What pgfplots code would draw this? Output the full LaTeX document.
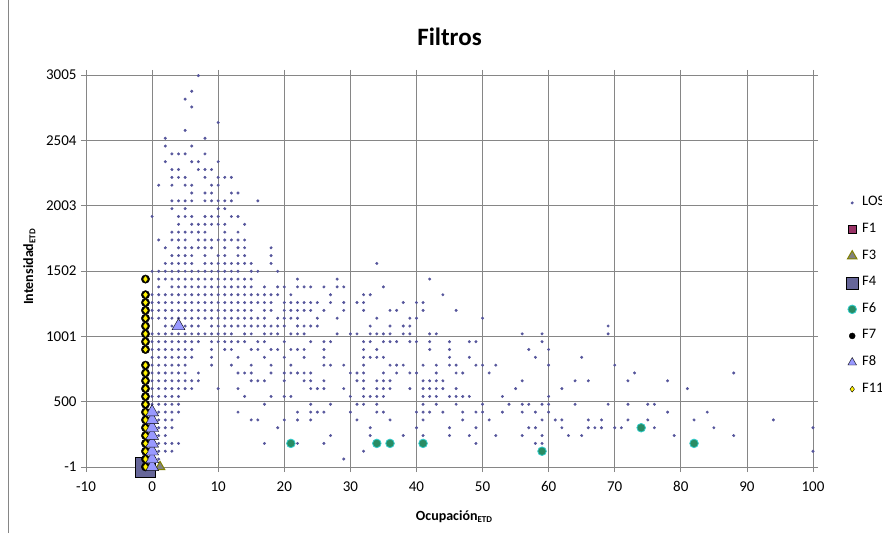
\documentclass[border=0pt]{standalone}
\usepackage{fontspec}
\setmainfont{Carlito}
\usepackage{pgfplots}
\pgfplotsset{compat=1.18}
\definecolor{losc}{RGB}{85,85,155}
\definecolor{f1c}{RGB}{153,51,102}
\definecolor{f3c}{RGB}{128,128,0}
\definecolor{f3f}{RGB}{128,128,128}
\definecolor{f4c}{RGB}{102,102,153}
\definecolor{f6c}{RGB}{40,140,100}
\definecolor{f6e}{RGB}{51,204,204}
\definecolor{f8c}{RGB}{153,153,255}
\definecolor{gridc}{RGB}{134,134,134}
\begin{document}
\begin{tikzpicture}[x=1pt,y=1pt]
\useasboundingbox (0,0) rectangle (882,533);
\draw[gridc, line width=0.75pt] (8,0) -- (8,533);
\begin{axis}[
 at={(86pt,66pt)}, anchor=south west, scale only axis, width=727pt, height=392pt,
 xmin=-10, xmax=100, ymin=-1, ymax=3005,
 xtick={-10,0,...,100}, xticklabels={-10,0,10,20,30,40,50,60,70,80,90,100},
 ytick={-1,499.833,1000.667,1501.5,2002.333,2503.167,3005},
 yticklabels={-1,500,1001,1502,2003,2504,3005},
 grid=major, major grid style={gridc, line width=0.75pt},
 axis line style={gridc, line width=0.75pt},
 tick style={gridc, line width=0.75pt}, tick align=outside, major tick length=5pt,
 x tick label style={font=\fontsize{15}{17}\selectfont, yshift=-6pt},
 y tick label style={font=\fontsize{15}{17}\selectfont, xshift=-1pt},
 /pgf/number format/assume math mode=true,
 clip=false,
 legend style={at={(1.0454,0.692)}, anchor=north west, draw=none, fill=none, inner sep=0pt,
   font=\fontsize{14.5}{17}\selectfont, row sep=12.6pt, column sep=3pt,
   nodes={inner sep=1pt, text height=9pt, text depth=3pt}},
 legend cell align=left,
 legend image code/.code={\draw[#1] plot coordinates {(0pt,0pt)};},
]
% LOS
\addplot[only marks, mark=*, mark size=1.3pt, losc, mark options={draw=none, fill=losc}] coordinates {
(7,3000)(6,2880)(5,2820)(6,2760)(10,2640)(5,2580)
(2,2520)(8,2520)
(2,2460)(6,2460)
(3,2400)(4,2400)(5,2400)(8,2400)
(2,2340)(6,2340)(7,2340)(10,2340)
(3,2280)(4,2280)(7,2280)(8,2280)(9,2280)
(3,2220)(4,2220)(5,2220)(8,2220)(10,2220)(11,2220)(12,2220)
(1,2160)(3,2160)(5,2160)(6,2160)(9,2160)(10,2160)
(6,2100)(8,2100)(9,2100)(12,2100)(13,2100)
(3,2040)(4,2040)(5,2040)(6,2040)(8,2040)(9,2040)(10,2040)(11,2040)(12,2040)(16,2040)
(3,1980)(5,1980)(10,1980)(11,1980)
(0,1920)(4,1920)(5,1920)(6,1920)(8,1920)(9,1920)(10,1920)(12,1920)(13,1920)
(4,1860)(6,1860)(7,1860)(8,1860)(9,1860)(10,1860)(11,1860)(14,1860)
(3,1800)(4,1800)(5,1800)(6,1800)(7,1800)(8,1800)(11,1800)(13,1800)
(1,1740)(3,1740)(4,1740)(5,1740)(7,1740)(8,1740)(9,1740)(10,1740)(11,1740)(12,1740)(13,1740)(14,1740)
(2,1680)(4,1680)(5,1680)(6,1680)(7,1680)(8,1680)(9,1680)(11,1680)(13,1680)(14,1680)(18,1680)
(3,1620)(4,1620)(5,1620)(6,1620)(8,1620)(10,1620)(11,1620)(13,1620)(14,1620)(18,1620)
(2,1560)(3,1560)(4,1560)(5,1560)(6,1560)(8,1560)(9,1560)(10,1560)(11,1560)(12,1560)(13,1560)(14,1560)(15,1560)(18,1560)(34,1560)
(0,1500)(1,1500)(2,1500)(3,1500)(4,1500)(5,1500)(6,1500)(7,1500)(8,1500)(9,1500)(10,1500)(11,1500)(12,1500)(13,1500)(15,1500)(16,1500)(19,1500)
(1,1440)(2,1440)(3,1440)(4,1440)(5,1440)(6,1440)(7,1440)(8,1440)(9,1440)(10,1440)(11,1440)(12,1440)(13,1440)(14,1440)(15,1440)(22,1440)(28,1440)(42,1440)
(1,1380)(3,1380)(4,1380)(5,1380)(6,1380)(7,1380)(8,1380)(9,1380)(10,1380)(11,1380)(12,1380)(13,1380)(14,1380)(15,1380)(17,1380)(19,1380)(20,1380)(22,1380)(23,1380)(24,1380)(26,1380)(28,1380)(29,1380)(35,1380)
(0,1320)(1,1320)(2,1320)(3,1320)(4,1320)(5,1320)(6,1320)(7,1320)(8,1320)(9,1320)(10,1320)(11,1320)(12,1320)(13,1320)(14,1320)(15,1320)(16,1320)(17,1320)(18,1320)(19,1320)(21,1320)(27,1320)(32,1320)(33,1320)(44,1320)
(0,1260)(1,1260)(2,1260)(3,1260)(4,1260)(5,1260)(6,1260)(7,1260)(8,1260)(9,1260)(10,1260)(11,1260)(12,1260)(13,1260)(14,1260)(15,1260)(16,1260)(17,1260)(18,1260)(20,1260)(21,1260)(22,1260)(23,1260)(24,1260)(25,1260)(27,1260)(29,1260)(31,1260)(32,1260)(38,1260)(40,1260)(41,1260)
(0,1200)(1,1200)(2,1200)(3,1200)(4,1200)(5,1200)(6,1200)(7,1200)(8,1200)(9,1200)(10,1200)(11,1200)(12,1200)(13,1200)(14,1200)(15,1200)(17,1200)(18,1200)(20,1200)(21,1200)(22,1200)(23,1200)(24,1200)(26,1200)(29,1200)(32,1200)(36,1200)(37,1200)(41,1200)(46,1200)
(0,1140)(1,1140)(2,1140)(3,1140)(4,1140)(5,1140)(6,1140)(7,1140)(8,1140)(9,1140)(10,1140)(11,1140)(12,1140)(13,1140)(14,1140)(15,1140)(16,1140)(17,1140)(19,1140)(20,1140)(21,1140)(22,1140)(25,1140)(28,1140)(34,1140)(39,1140)(40,1140)(50,1140)
(2,1080)(3,1080)(5,1080)(6,1080)(7,1080)(9,1080)(10,1080)(11,1080)(12,1080)(13,1080)(14,1080)(15,1080)(16,1080)(17,1080)(18,1080)(19,1080)(20,1080)(22,1080)(23,1080)(24,1080)(25,1080)(33,1080)(36,1080)(38,1080)(39,1080)(69,1080)
(0,1020)(1,1020)(2,1020)(3,1020)(4,1020)(5,1020)(6,1020)(7,1020)(8,1020)(9,1020)(10,1020)(11,1020)(12,1020)(14,1020)(15,1020)(17,1020)(18,1020)(19,1020)(21,1020)(22,1020)(23,1020)(28,1020)(30,1020)(31,1020)(33,1020)(34,1020)(35,1020)(36,1020)(38,1020)(39,1020)(42,1020)(43,1020)(56,1020)(59,1020)(69,1020)
(0,960)(1,960)(2,960)(3,960)(4,960)(5,960)(6,960)(7,960)(9,960)(10,960)(11,960)(12,960)(13,960)(14,960)(16,960)(17,960)(20,960)(24,960)(26,960)(27,960)(32,960)(33,960)(35,960)(36,960)(37,960)(39,960)(40,960)(42,960)(45,960)(48,960)(49,960)(59,960)
(0,900)(1,900)(2,900)(3,900)(4,900)(5,900)(6,900)(9,900)(11,900)(12,900)(15,900)(16,900)(18,900)(19,900)(21,900)(22,900)(23,900)(26,900)(32,900)(34,900)(42,900)(45,900)(57,900)(60,900)
(0,840)(1,840)(2,840)(3,840)(4,840)(5,840)(6,840)(9,840)(13,840)(17,840)(20,840)(23,840)(26,840)(32,840)(33,840)(34,840)(35,840)(45,840)(48,840)(58,840)(65,840)
(0,780)(1,780)(2,780)(3,780)(4,780)(5,780)(9,780)(12,780)(15,780)(18,780)(21,780)(26,780)(27,780)(29,780)(32,780)(36,780)(37,780)(38,780)(41,780)(43,780)(45,780)(46,780)(49,780)(50,780)(52,780)(60,780)(70,780)
(0,720)(1,720)(2,720)(3,720)(4,720)(5,720)(7,720)(13,720)(14,720)(15,720)(18,720)(20,720)(21,720)(22,720)(23,720)(24,720)(30,720)(31,720)(32,720)(35,720)(37,720)(39,720)(40,720)(43,720)(46,720)(47,720)(51,720)(73,720)(88,720)
(0,660)(1,660)(2,660)(3,660)(4,660)(5,660)(6,660)(7,660)(15,660)(16,660)(17,660)(20,660)(23,660)(24,660)(26,660)(31,660)(32,660)(34,660)(35,660)(36,660)(41,660)(42,660)(43,660)(44,660)(56,660)(64,660)(66,660)(72,660)(78,660)
(0,600)(1,600)(2,600)(3,600)(4,600)(5,600)(6,600)(10,600)(13,600)(24,600)(25,600)(26,600)(29,600)(32,600)(34,600)(35,600)(36,600)(39,600)(41,600)(42,600)(43,600)(44,600)(46,600)(55,600)(62,600)(81,600)
(0,540)(1,540)(2,540)(3,540)(4,540)(14,540)(18,540)(20,540)(21,540)(30,540)(32,540)(33,540)(34,540)(35,540)(41,540)(42,540)(43,540)(45,540)(46,540)(47,540)(48,540)(53,540)(60,540)
(0,480)(1,480)(2,480)(3,480)(4,480)(17,480)(24,480)(27,480)(31,480)(32,480)(34,480)(41,480)(43,480)(46,480)(50,480)(54,480)(56,480)(57,480)(59,480)(60,480)(64,480)(69,480)(72,480)(75,480)(76,480)
(1,420)(2,420)(3,420)(4,420)(13,420)(22,420)(24,420)(25,420)(26,420)(30,420)(34,420)(35,420)(40,420)(41,420)(42,420)(44,420)(47,420)(49,420)(50,420)(53,420)(56,420)(58,420)(60,420)(78,420)(84,420)
(1,360)(2,360)(3,360)(15,360)(16,360)(20,360)(22,360)(24,360)(31,360)(36,360)(41,360)(47,360)(51,360)(59,360)(61,360)(62,360)(66,360)(68,360)(72,360)(75,360)(82,360)(94,360)
(1,300)(2,300)(3,300)(19,300)(33,300)(40,300)(45,300)(49,300)(57,300)(58,300)(62,300)(66,300)(67,300)(68,300)(70,300)(71,300)(76,300)(85,300)(100,300)
(1,240)(2,240)(27,240)(33,240)(38,240)(41,240)(45,240)(48,240)(52,240)(56,240)(59,240)(63,240)(65,240)(79,240)(88,240)
(1,180)(2,180)(3,180)(4,180)(17,180)(22,180)(26,180)(49,180)(58,180)(59,180)
(1,120)(2,120)(3,120)(32,120)(100,120)
(1,60)(29,60)
};
\addlegendentry{LOS}
% F1
\addplot[only marks, mark=square*, mark size=4pt, mark options={draw=none, fill=f1c}] coordinates {(-1,0)};
\addlegendentry{F1}
% F3
\addplot[only marks, mark=triangle*, mark size=5.5pt, mark options={draw=f3c, fill=f3f, line width=1pt}] coordinates {(1.2,0)};
\addlegendentry{F3}
% F4
\addplot[only marks, mark=square*, mark size=10pt, mark options={draw=none, fill=f4c}, legend image post style={mark size=6pt}] coordinates {(-1,0)};
\addlegendentry{F4}
% F6
\addplot[only marks, mark=*, mark size=4.3pt, mark options={draw=f6e, fill=f6c, line width=0.8pt}] coordinates {
(21,180)(34,180)(36,180)(41,180)(59,120)(74,300)(82,180)};
\addlegendentry{F6}
% F7
\addplot[only marks, mark=*, mark size=4.2pt, mark options={draw=none, fill=black}, legend image post style={mark size=3pt}] coordinates {
(-1,0)(-1,60)(-1,120)(-1,180)(-1,240)(-1,300)(-1,360)(-1,420)(-1,480)(-1,540)(-1,600)(-1,660)(-1,720)(-1,780)
(-1,900)(-1,960)(-1,1020)(-1,1080)(-1,1140)(-1,1200)(-1,1260)(-1,1320)(-1,1440)};
\addlegendentry{F7}
% F8
\addplot[only marks, mark=triangle*, mark size=7.5pt, mark options={draw=none, fill=f8c}, legend image post style={mark size=5pt}] coordinates {
(0,0)(0,60)(0,120)(0,180)(0,240)(0,300)(0,360)(0,420)(4,1080)};
\addlegendentry{F8}
% F11
\addplot[only marks, mark=diamond*, mark size=3.6pt, mark options={draw=none, fill=yellow}, legend image post style={mark size=3pt}] coordinates {
(-1,0)(-1,60)(-1,120)(-1,180)(-1,240)(-1,300)(-1,360)(-1,420)(-1,480)(-1,540)(-1,600)(-1,660)(-1,720)(-1,780)
(-1,900)(-1,960)(-1,1020)(-1,1080)(-1,1140)(-1,1200)(-1,1260)(-1,1320)(-1,1440)};
\addlegendentry{F11}
\end{axis}
\node[font=\bfseries\fontsize{25}{30}\selectfont, anchor=base] at (449.5,487) {Filtros};
\node[font=\bfseries\fontsize{14}{16}\selectfont, anchor=base] at (454,13) {Ocupación\raisebox{-0.35ex}{\fontsize{9}{10}\selectfont ETD}};
\node[font=\bfseries\fontsize{14}{16}\selectfont, anchor=base, rotate=90] at (33,266) {Intensidad\raisebox{-0.35ex}{\fontsize{9}{10}\selectfont ETD}};
\end{tikzpicture}
\end{document}
